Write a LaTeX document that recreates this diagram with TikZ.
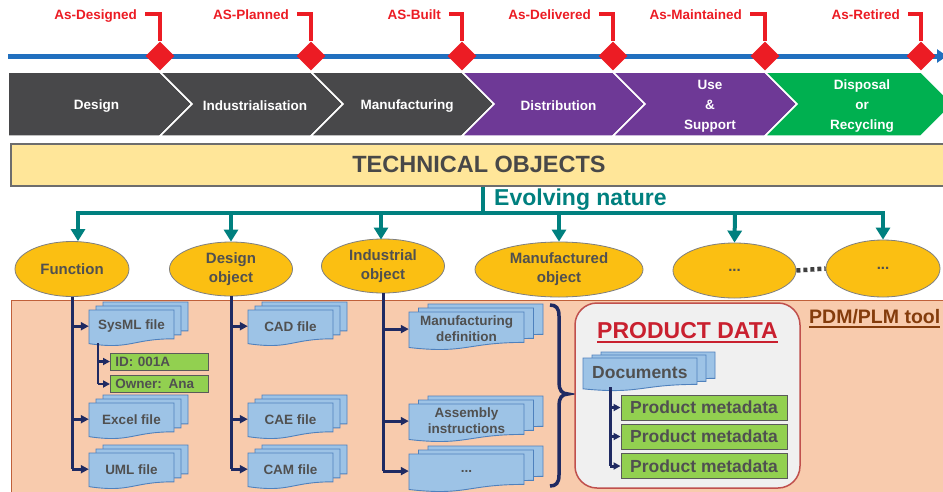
\documentclass[tikz,border=0pt]{standalone}
\usepackage{fontspec}
\setmainfont{Liberation Sans}
\usetikzlibrary{shapes.geometric,arrows.meta}
\definecolor{tlblue}{HTML}{2170BF}
\definecolor{dred}{HTML}{EC1C24}
\definecolor{chgray}{HTML}{48484A}
\definecolor{chpurple}{HTML}{6E3996}
\definecolor{chgreen}{HTML}{00B050}
\definecolor{toyel}{HTML}{FFE699}
\definecolor{toborder}{HTML}{6D6D6D}
\definecolor{dtext}{HTML}{505050}
\definecolor{tealc}{HTML}{00807F}
\definecolor{ellfill}{HTML}{FBBF12}
\definecolor{ellborder}{HTML}{7F7F7F}
\definecolor{peach}{HTML}{F8CBAD}
\definecolor{peachb}{HTML}{C0603A}
\definecolor{navyc}{HTML}{1F2A62}
\definecolor{docfill}{HTML}{9DC3E6}
\definecolor{docb}{HTML}{4F81BD}
\definecolor{gbox}{HTML}{92D050}
\definecolor{gboxb}{HTML}{5A5A5A}
\definecolor{pdred}{HTML}{C9202F}
\definecolor{pdmbrown}{HTML}{843C0C}
\definecolor{pdfill}{HTML}{F0F0F0}
\definecolor{pdborder}{HTML}{C0504D}
\definecolor{dotgray}{HTML}{3F3F3F}
\newcommand{\fsz}[2]{\fontsize{#1}{#2}\selectfont\bfseries}
% one document shape: x y w h
\newcommand{\docpath}[4]{\filldraw[docsty] (#1,#2) -- (#1+#3,#2) -- (#1+#3,#2+0.80*#4) .. controls (#1+0.5*#3,#2+0.80*#4) and (#1+0.5*#3,#2+1.107*#4) .. (#1,#2+0.934*#4) -- cycle;}
% multi document: name x y w h dx dy text
\newcommand{\mdoc}[8]{%
  \docpath{#2+2*#6}{#3-2*#7}{#4}{#5}
  \docpath{#2+#6}{#3-#7}{#4}{#5}
  \docpath{#2}{#3}{#4}{#5}
  \node[doctext, minimum width=#4, minimum height=0.8*#5] (#1) at (#2+0.5*#4,#3+0.45*#5) {#8};}
\begin{document}
\begin{tikzpicture}[x=1pt,y=-1pt,
  docsty/.style={fill=docfill, draw=docb, line width=0.9},
  doctext/.style={inner sep=0, text=dtext, font=\fsz{13.5}{16}, align=center},
  lbl/.style={anchor=base east, inner sep=0, text=dred, font=\fsz{13.5}{15}},
  redline/.style={draw=dred, line width=4, line join=miter},
  dmd/.style={diamond, fill=dred, minimum width=29, minimum height=29, inner sep=0, aspect=1},
  chev/.style={draw=white, line width=1.5},
  chtext/.style={text=white, font=\fsz{13.5}{20}, align=center},
  ell/.style={ellipse, fill=ellfill, draw=ellborder, line width=0.8, text=dtext, font=\fsz{15}{19}, align=center, inner sep=0},
  tealline/.style={draw=tealc, line width=4},
  tealarr/.style={draw=tealc, line width=4, -{Triangle[length=12pt,width=14pt]}},
  navyl/.style={draw=navyc, line width=3},
  navyarr/.style={draw=navyc, line width=3, -{Triangle[length=8pt,width=8pt]}},
  navyarrs/.style={draw=navyc, line width=2.5, -{Triangle[length=7pt,width=7pt]}},
  gnode/.style={fill=gbox, draw=gboxb, line width=0.9, text=dtext, inner sep=0}
]
\useasboundingbox (0,0) rectangle (943,491);
\clip (0,0) rectangle (943,491);
\fill[white] (0,0) rectangle (943,491);

% ---------- timeline ----------
\draw[tlblue, line width=5, -{Triangle[length=10pt,width=13pt]}] (8,56) -- (947,56);

% ---------- chevrons ----------
\filldraw[chev, fill=chgray] (8,72) -- (160,72) -- (192,104) -- (160,136) -- (8,136) -- cycle;
\filldraw[chev, fill=chgray] (160,72) -- (311,72) -- (343,104) -- (311,136) -- (160,136) -- (192,104) -- cycle;
\filldraw[chev, fill=chgray] (311,72) -- (462,72) -- (494,104) -- (462,136) -- (311,136) -- (343,104) -- cycle;
\filldraw[chev, fill=chpurple] (462,72) -- (613,72) -- (645,104) -- (613,136) -- (462,136) -- (494,104) -- cycle;
\filldraw[chev, fill=chpurple] (613,72) -- (765,72) -- (797,104) -- (765,136) -- (613,136) -- (645,104) -- cycle;
\filldraw[chev, fill=chgreen] (765,72) -- (921,72) -- (953,104) -- (921,136) -- (765,136) -- (797,104) -- cycle;
\node[chtext] (c1) at (96.5,106) {Design};
\node[chtext] (c2) at (255,106) {Industrialisation};
\node[chtext] (c3) at (407,106) {Manufacturing};
\node[chtext] (c4) at (558.5,106) {Distribution};
\node[chtext] (c5) at (710,106) {Use\\\&\\Support};
\node[chtext] (c6) at (862,106) {Disposal\\or\\Recycling};

% ---------- milestones ----------
\node[dmd] (d1) at (160,56) {};
\node[dmd] (d2) at (311,56) {};
\node[dmd] (d3) at (462,56) {};
\node[dmd] (d4) at (613,56) {};
\node[dmd] (d5) at (765,56) {};
\node[dmd] (d6) at (921,56) {};
\node[lbl] (l1) at (137,19) {As-Designed};
\node[lbl] (l2) at (289,19) {AS-Planned};
\node[lbl] (l3) at (441,19) {AS-Built};
\node[lbl] (l4) at (591,19) {As-Delivered};
\node[lbl] (l5) at (742,19) {As-Maintained};
\node[lbl] (l6) at (900,19) {As-Retired};
\foreach \i in {1,...,6}{
  \draw[redline] ([xshift=8pt,yshift=5pt]l\i.base east) -| (d\i.north);
}

% ---------- technical objects ----------
\node[draw=toborder, line width=2, fill=toyel, minimum width=936, minimum height=42, inner sep=0,
      text=dtext!90!black, font=\fsz{23.5}{26}] (tobj) at (479,164.5) {TECHNICAL OBJECTS};
\node[anchor=base west, inner sep=0, text=tealc, font=\fsz{23}{26}] (evo) at (494,205) {Evolving nature};

% ---------- ellipses ----------
\node[ell, minimum width=114, minimum height=55] (e1) at (72,269) {Function};
\node[ell, minimum width=123, minimum height=54] (e2) at (231,269) {Design\\object};
\node[ell, minimum width=123, minimum height=54] (e3) at (383,266) {Industrial\\object};
\node[ell, minimum width=168, minimum height=55] (e4) at (559,269.5) {Manufactured\\object};
\node[ell, minimum width=123, minimum height=55] (e5) at (734.5,270.5) {...};
\node[ell, minimum width=114, minimum height=57] (e6) at (883,268.5) {...};
\draw[draw=dotgray, line width=4.5, dash pattern=on 4pt off 3pt] (e5.east) -- (e6.west);

% teal connectors
\coordinate (tl) at (78,213);
\coordinate (tr) at (883,213);
\draw[tealline] ([xshift=4pt]tobj.south) -- ([xshift=4pt]tobj.south |- tl);
\draw[tealline, line cap=rect] (tl) -- (tr);
\draw[tealarr] (tl) -- (tl |- e1.north);
\draw[tealarr] (231,213) -- (e2.north);
\draw[tealarr] (381,213) -- (381,239.5);
\draw[tealarr] (559,213) -- (e4.north);
\draw[tealarr] (735,213) -- (e5.north);
\draw[tealarr] (tr) -- (e6.north);

% ---------- PDM area ----------
\filldraw[fill=peach, draw=peachb, line width=0.8] (11,300) rectangle (960,510);
\node[anchor=base west, inner sep=0, text=pdmbrown, font=\fsz{19.5}{22}] (pdm) at (809,323) {PDM/PLM tool};
\draw[pdmbrown, line width=2] ([yshift=-4pt]pdm.base west) -- ([yshift=-4pt]pdm.base east);

% documents
\mdoc{sysml}{89}{310}{85}{36}{7}{4}{SysML file}
\mdoc{excel}{89}{403}{85}{36}{7}{4}{Excel file}
\mdoc{uml}{89}{453}{85}{36}{7}{4}{UML file}
\mdoc{cad}{248}{310}{85}{36}{7}{4}{CAD file}
\mdoc{cae}{248}{403}{85}{36}{7}{4}{CAE file}
\mdoc{cam}{248}{453}{85}{36}{7}{4}{CAM file}
\mdoc{mdef}{409}{312}{115}{38}{9.5}{4}{Manufacturing\\definition}
\mdoc{asm}{409}{404}{115}{38}{9.5}{4}{Assembly\\instructions}
\mdoc{etc}{409}{454}{115}{38}{9.5}{4}{...}

% id boxes
\node[gnode, anchor=west, minimum width=98, minimum height=17, text width=88, inner xsep=5, align=left, font=\fsz{13.5}{15}] (idb) at (110,361.5) {ID: 001A};
\node[gnode, anchor=west, minimum width=98, minimum height=17, text width=88, inner xsep=5, align=left, font=\fsz{13.5}{15}] (own) at (110,384) {Owner: Ana};

% navy connectors
\draw[navyl] (e1.south) -- (e1.south |- uml.west);
\draw[navyarr] (e1.south |- sysml.west) -- (sysml.west);
\draw[navyarr] (e1.south |- excel.west) -- (excel.west);
\draw[navyarr] (e1.south |- uml.west) -- (uml.west);
\coordinate (sb) at (98,343);
\draw[navyl, line width=2.5] (sb) -- (sb |- own.west);
\draw[navyarrs] (sb |- idb.west) -- (idb.west);
\draw[navyarrs] (sb |- own.west) -- (own.west);

\draw[navyl] (e2.south) -- (e2.south |- cam.west);
\draw[navyarr] (e2.south |- cad.west) -- (cad.west);
\draw[navyarr] (e2.south |- cae.west) -- (cae.west);
\draw[navyarr] (e2.south |- cam.west) -- (cam.west);

\draw[navyl] (e3.south) -- (e3.south |- etc.west);
\draw[navyarr] (e3.south |- mdef.west) -- (mdef.west);
\draw[navyarr] (e3.south |- asm.west) -- (asm.west);
\draw[navyarr] (e3.south |- etc.west) -- (etc.west);

% brace
\draw[navyc, line width=3.5] (550,305) .. controls (556,305) and (559,308) .. (559,316) -- (559,383)
  .. controls (559,390) and (562,394) .. (568,394) .. controls (562,394) and (559,398) .. (559,405)
  -- (559,475) .. controls (559,483) and (556,486) .. (550,486);

% ---------- product data ----------
\node[draw=pdborder, fill=pdfill, rounded corners=22pt, line width=1.5, minimum width=225, minimum height=185, inner sep=0] (pdbox) at (687.5,395.5) {};
\node[anchor=base, inner sep=0, text=pdred, font=\fsz{23}{26}] (pdt) at (687.5,338) {PRODUCT DATA};
\draw[pdred, line width=2.5] ([yshift=-4pt]pdt.base west) -- ([yshift=-4pt]pdt.base east);
\docpath{601}{352}{114}{33}
\docpath{592}{355}{114}{33}
\docpath{583}{358}{114}{33}
\node[anchor=west, inner sep=0, text=dtext, font=\fsz{17.5}{20}] (docs) at (592,373) {Documents};
\node[gnode, minimum width=166, minimum height=25, font=\fsz{17.5}{20}] (pm1) at (704,407.5) {Product metadata};
\node[gnode, minimum width=166, minimum height=25, font=\fsz{17.5}{20}] (pm2) at (704,436.5) {Product metadata};
\node[gnode, minimum width=166, minimum height=25, font=\fsz{17.5}{20}] (pm3) at (704,466) {Product metadata};
\coordinate (dv) at (610,387);
\draw[navyl] (dv) -- (dv |- pm3.west);
\draw[navyarrs, line width=3] (dv |- pm1.west) -- (pm1.west);
\draw[navyarrs, line width=3] (dv |- pm2.west) -- (pm2.west);
\draw[navyarrs, line width=3] (dv |- pm3.west) -- (pm3.west);
\end{tikzpicture}
\end{document}
